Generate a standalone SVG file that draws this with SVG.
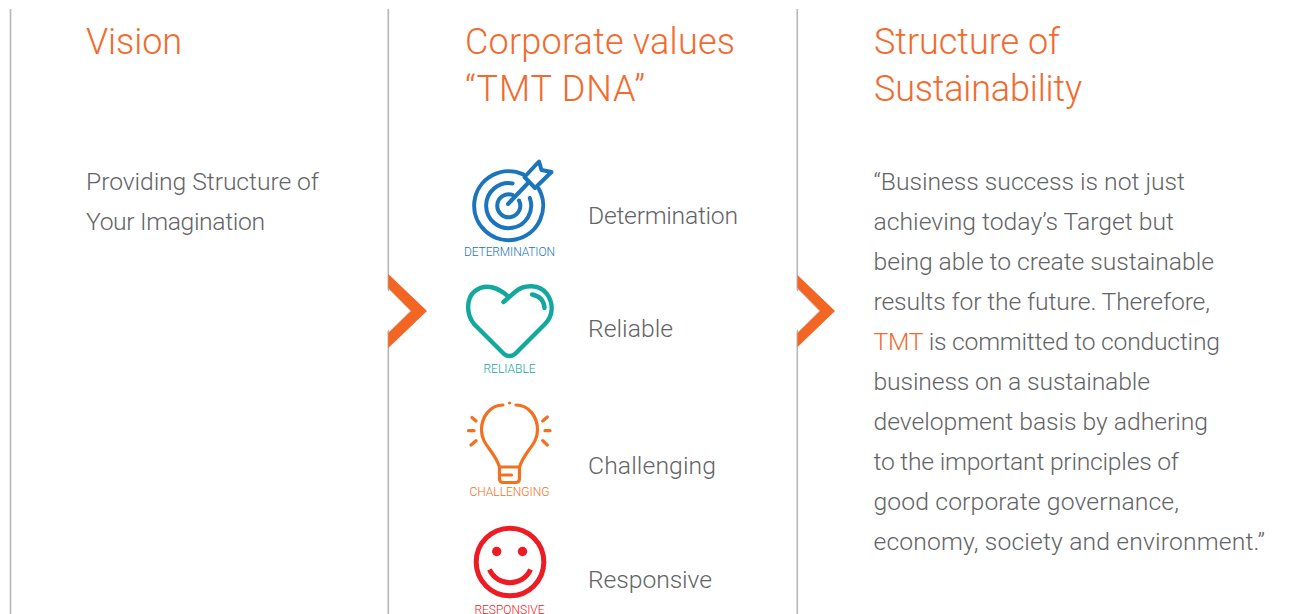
<svg xmlns="http://www.w3.org/2000/svg" width="1290" height="614" viewBox="0 0 1290 614">
<style>
text{font-family:"Roboto","Liberation Sans",sans-serif;font-weight:300}
.title{font-size:36px;fill:#f26a2e}
.body{font-size:24.700px;fill:#636466}
.org{fill:#f26a2e}
.rule{stroke:#b5b6b8;stroke-width:1.600;fill:none}
.chev{fill:#f26522}
.gap{fill:#fff}
.edge{stroke:#c4c5c7;stroke-width:1;fill:none}
.cap{font-size:12px;text-anchor:middle}
.ic{fill:none;stroke-linecap:round;stroke-linejoin:round}
</style>
<rect width="1290" height="614" fill="#fff"/>
<g id="connectors">
<line class="rule" x1="10.500" y1="9" x2="10.500" y2="614"/>
<line class="rule" x1="388.300" y1="9" x2="388.300" y2="614"/>
<line class="rule" x1="797.300" y1="9" x2="797.300" y2="614"/>
<polygon class="gap" points="386,289 411,311 386,332"/>
<polygon class="gap" points="795,289 820,311 795,332"/>
<path class="edge" d="M388.500 288.500L410.500 311L388.500 333"/>
<path class="edge" d="M797.500 288.500L819.500 311L797.500 333"/>
<polygon class="chev" points="388.300,274 427,311 388.300,348 388.300,333 411,311 388.300,288"/>
<polygon class="chev" points="797.500,275 835,311 797.500,347 797.500,333 820,311 797.500,288"/>
</g>
<g id="vision">
<text class="title" x="86" y="53.500" textLength="96">Vision</text>
<text class="body" x="86" y="189.500" textLength="233">Providing Structure of</text>
<text class="body" x="86" y="229.500" textLength="179">Your Imagination</text>
</g>
<g id="values">
<text class="title" x="465" y="53.500" textLength="270">Corporate values</text>
<text class="title" x="465" y="101" textLength="180">“TMT DNA”</text>
</g>
<g id="determination">
<g class="ic" stroke="#1b75bc" stroke-width="4" transform="translate(0,-1)">
<path d="M523.300 175.400A34.500 34.500 0 1 0 538.600 189.500"/>
<path d="M512.600 184.500A22.500 22.500 0 1 0 529.800 199"/>
<path d="M512.600 195.900A11.500 11.500 0 1 0 519 201.500"/>
<path d="M508 205L529 183"/>
<path d="M524.500 178L539 162.500L541.500 171L551.500 173L535 189Z"/>
</g>
<text class="cap" x="509.500" y="255.500" fill="#1b75bc" textLength="91">DETERMINATION</text>
<text class="body" x="588" y="223.500" textLength="150">Determination</text>
</g>
<g id="reliable">
<g class="ic" stroke="#12a89d" stroke-width="4.400">
<path d="M503.500 302L515 292C524 284 540 284 547 294C554 304 553 316 545 324L515 354C511 357 508 357 504 354L474 324C466 314 466 298 475 291C485 283 498 287 509 297"/>
<path d="M532 294.500C540 296 544 301 544.500 308"/>
</g>
<text class="cap" x="509.500" y="372.500" fill="#12a89d">RELIABLE</text>
<text class="body" x="588" y="336.500" textLength="85">Reliable</text>
</g>
<g id="challenging">
<g class="ic" stroke="#f37021" stroke-width="3.200">
<path d="M503 405C490 405 481.500 417 481.500 430C481.500 445 494 450 499.500 467L519.500 467C525 450 537.500 445 537.500 430C537.500 417 529 405 516 405"/>
<path d="M499.500 467V479C499.500 481 501 482.500 503 482.500H516C518 482.500 519.500 481 519.500 479V467"/>
<path d="M502 475H511.500"/>
<path d="M472 417.500L476 421M468.500 430.700H474M471 445L476 440.700M547.300 417L542.700 421M550 430.700H545M547.300 445L542.700 440.700"/>
</g>
<circle cx="509.500" cy="403" r="1.600" fill="#f37021"/>
<text class="cap" x="509.500" y="495.500" fill="#f37021">CHALLENGING</text>
<text class="body" x="588" y="473.500" textLength="128">Challenging</text>
</g>
<g id="responsive">
<circle cx="510" cy="562" r="33.800" fill="none" stroke="#ed1c24" stroke-width="5"/>
<circle cx="496.700" cy="551.500" r="4.700" fill="#ed1c24"/>
<circle cx="522.500" cy="551.500" r="4.700" fill="#ed1c24"/>
<path d="M489.500 569.500C497 587 523 587 530.500 569.500" fill="none" stroke="#ed1c24" stroke-width="5"/>
<text class="cap" x="509.500" y="613.500" fill="#ed1c24">RESPONSIVE</text>
<text class="body" x="588" y="587.500" textLength="124">Responsive</text>
</g>
<g id="sustainability">
<text class="title" x="874" y="53.500" textLength="186">Structure of</text>
<text class="title" x="874" y="101" textLength="208">Sustainability</text>
<text class="body" x="873.500" y="189.500" textLength="311.500">“Business success is not just</text>
<text class="body" x="873.500" y="229.500" textLength="300.500">achieving today’s Target but</text>
<text class="body" x="873.500" y="269.500" textLength="340.500">being able to create sustainable</text>
<text class="body" x="873.500" y="309.500" textLength="336.500">results for the future. Therefore,</text>
<text class="body" x="873.500" y="349.500" textLength="346.500"><tspan class="org">TMT</tspan> is committed to conducting</text>
<text class="body" x="873.500" y="389.500" textLength="276.500">business on a sustainable</text>
<text class="body" x="873.500" y="429.500" textLength="334.500">development basis by adhering</text>
<text class="body" x="873.500" y="469.500" textLength="305.500">to the important principles of</text>
<text class="body" x="873.500" y="509.500" textLength="305.500">good corporate governance,</text>
<text class="body" x="873.500" y="549.500" textLength="391.500">economy, society and environment.”</text>
</g>
</svg>
